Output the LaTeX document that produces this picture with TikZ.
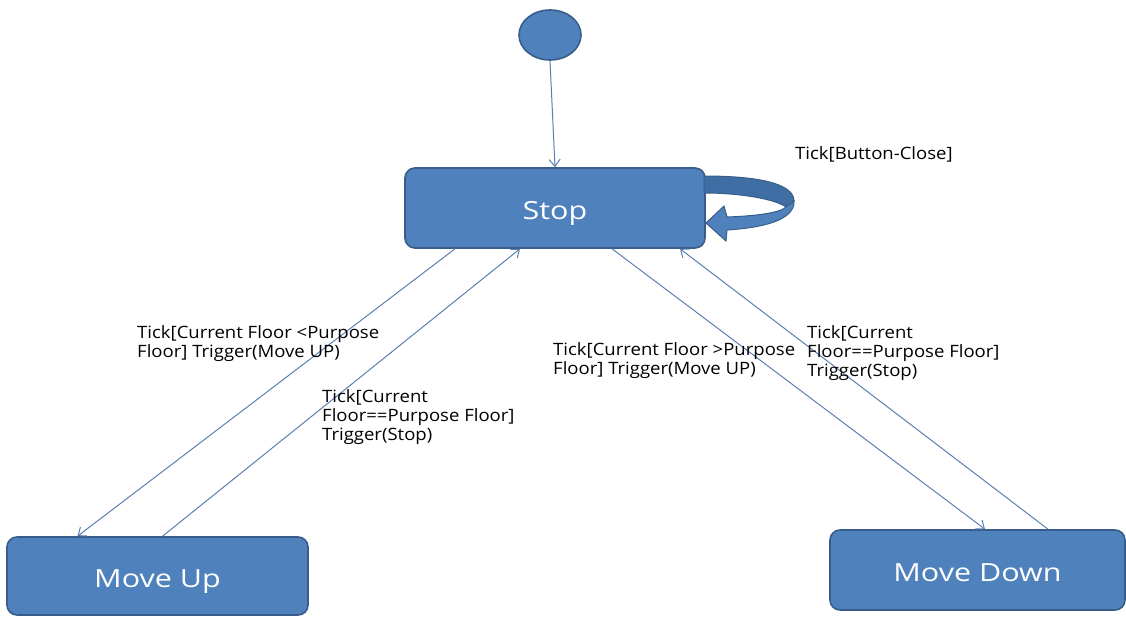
\documentclass[tikz,border=0pt]{standalone}
\usepackage{fontspec}
\setmainfont{Open Sans}
\newfontfamily\guardfont[FakeStretch=1.09]{Open Sans}
\newfontfamily\statefont[FakeStretch=1.22]{Open Sans}
\usetikzlibrary{arrows.meta,shapes.geometric}
\definecolor{stfill}{HTML}{4F81BD}
\definecolor{stedge}{HTML}{385D8A}
\definecolor{stdark}{HTML}{3F6EA5}
\definecolor{wire}{HTML}{5B7FB0}
\tikzset{
  statebox/.style={draw=stedge, line width=1.6pt, fill=stfill, rounded corners=10pt,
    text=white, font=\statefont\fontsize{25}{30}\selectfont, inner sep=0pt,
    text height=23pt, text depth=0pt},
  trans/.style={draw=wire, line width=1pt, -{Straight Barb[length=7pt,width=11pt]}},
  guard/.style={anchor=north west, align=left, inner sep=0pt,
    font=\guardfont\fontsize{17}{19}\selectfont, text=black},
}
\begin{document}
\begin{tikzpicture}[x=1pt,y=-1pt]
\useasboundingbox (0,0) rectangle (1126,617);
% states
\node[draw=stedge, line width=1.6pt, fill=stfill, ellipse, minimum width=62pt,
  minimum height=50pt, inner sep=0pt] (init) at (550,35) {};
\node[statebox, minimum width=300pt, minimum height=80pt] (stop) at (555,208) {Stop};
\node[statebox, minimum width=301pt, minimum height=78pt] (up) at (157.5,576) {Move Up};
\node[statebox, minimum width=295pt, minimum height=80pt] (down) at (977.5,570) {Move Down};
% self loop on Stop: ribbon arrow
\path[fill=stdark, draw=stedge, line width=1pt]
  (704,176) .. controls (760,176) and (794,184) .. (794,201)
  -- (786,207) .. controls (775,199) and (740,193) .. (704,193) -- cycle;
\path[fill=stfill, draw=stedge, line width=1pt]
  (794,201) .. controls (795,221) and (760,228) .. (727,230)
  -- (726,241) -- (706,223) -- (724,206) -- (727,217)
  .. controls (755,216) and (780,213) .. (786,207) -- cycle;
\node[guard] (lblloop) at (795,146) {Tick[Button-Close]};
% transitions
\draw[trans] (init.south) -- (stop.north);
\draw[trans] ([xshift=-100pt]stop.south) -- ([xshift=-80pt]up.north);
\draw[trans] ([xshift=5pt]up.north) -- ([xshift=-35pt]stop.south);
\draw[trans] ([xshift=57pt]stop.south) -- ([xshift=7.5pt]down.north);
\draw[trans] ([xshift=70.5pt]down.north) -- ([xshift=125pt]stop.south);
% guards
\node[guard] (lblup) at (137,325) {Tick[Current Floor <Purpose\\Floor] Trigger(Move UP)};
\node[guard] (lblupstop) at (322,389) {Tick[Current\\Floor==Purpose Floor]\\Trigger(Stop)};
\node[guard] (lbldown) at (553,342) {Tick[Current Floor >Purpose\\Floor] Trigger(Move UP)};
\node[guard] (lbldownstop) at (807,325) {Tick[Current\\Floor==Purpose Floor]\\Trigger(Stop)};
\end{tikzpicture}
\end{document}
